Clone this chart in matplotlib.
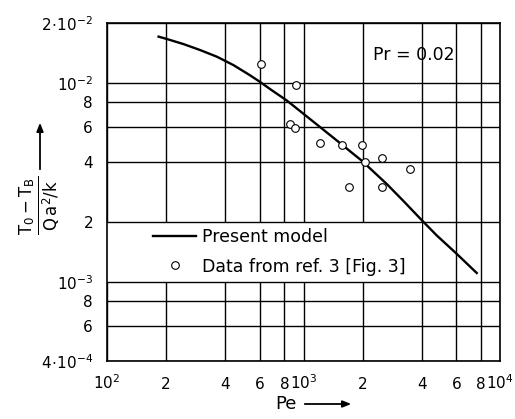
import numpy as np
import matplotlib
matplotlib.use("Agg")
import matplotlib.pyplot as plt
from matplotlib.patches import Rectangle, FancyArrowPatch

plt.rcParams['font.family'] = ['DejaVu Sans']
plt.rcParams['mathtext.fontset'] = 'dejavusans'

# ---- data ----
pe_model = [183, 202, 245, 298, 363, 441, 536, 602, 677, 823, 1000, 1216, 1479,
            1796, 1981, 2655, 3224, 4000, 4767, 6025, 7612]
theta_model = [1.708e-2, 1.661e-2, 1.567e-2, 1.462e-2, 1.353e-2, 1.227e-2, 1.09e-2,
               1.01e-2, 9.3e-3, 8.15e-3, 6.99e-3, 5.99e-3, 5.13e-3, 4.39e-3, 4.06e-3,
               3.10e-3, 2.55e-3, 2.04e-3, 1.71e-3, 1.382e-3, 1.108e-3]

pe_data = [607, 915, 849, 904, 1220, 1578, 1995, 2051, 2504, 3486, 1707, 2514]
theta_data = [1.242e-2, 9.8e-3, 6.21e-3, 5.92e-3, 5.01e-3, 4.89e-3, 4.88e-3,
              4.01e-3, 4.2e-3, 3.67e-3, 2.99e-3, 2.98e-3]

x_ticks = [100, 200, 400, 600, 800, 1000, 2000, 4000, 6000, 8000, 10000]
x_ticklabels = [r'$10^2$', '2', '4', '6', '8', r'$10^3$', '2', '4', '6', '8', r'$10^4$']
y_ticks = [4e-4, 6e-4, 8e-4, 1e-3, 2e-3, 4e-3, 6e-3, 8e-3, 1e-2, 2e-2]
y_ticklabels = [r'$4\!\cdot\!10^{-4}$', '6', '8', r'$10^{-3}$', '2', '4', '6', '8',
                r'$10^{-2}$', r'$2\!\cdot\!10^{-2}$']

legend_labels = ['Present model', 'Data from ref. 3 [Fig. 3]']

# ---- figure ----
fig = plt.figure(figsize=(5.15, 4.19), dpi=100)
ax = fig.add_axes([107/515, 1-361/419, (500-107)/515, (361-23)/419])
ax.set_xscale('log')
ax.set_yscale('log')
ax.set_xlim(x_ticks[0], x_ticks[-1])
ax.set_ylim(y_ticks[0], y_ticks[-1])

for xv in x_ticks:
    ax.axvline(xv, color='black', lw=1.0, zorder=1)
# blank area behind legend
ax.add_patch(Rectangle((x_ticks[0], 1e-3), 4000 - x_ticks[0], 1e-3,
                       facecolor='white', edgecolor='none', zorder=1.5))
for yv in y_ticks:
    ax.axhline(yv, color='black', lw=1.0, zorder=2)

line, = ax.plot(pe_model, theta_model, color='black', lw=1.7, zorder=3)
pts, = ax.plot(pe_data, theta_data, ls='none', marker='o', ms=5.5,
               mfc='white', mec='black', mew=0.8, zorder=4)

ax.minorticks_off()
ax.set_xticks(x_ticks)
ax.set_xticklabels(x_ticklabels, fontsize=11)
ax.set_yticks(y_ticks)
ax.set_yticklabels(y_ticklabels, fontsize=11)
ax.tick_params(axis='both', length=0)
ax.tick_params(axis='y', pad=10)
ax.tick_params(axis='x', pad=20)
for t in ax.xaxis.get_major_ticks():
    t.label1.set_verticalalignment('baseline')
for s in ax.spines.values():
    s.set_linewidth(1.2)

y0 = (np.log10(1e-3) - np.log10(y_ticks[0])) / (np.log10(y_ticks[-1]) - np.log10(y_ticks[0]))
y1 = (np.log10(2e-3) - np.log10(y_ticks[0])) / (np.log10(y_ticks[-1]) - np.log10(y_ticks[0]))
ax.legend([line, pts], legend_labels, loc='center left',
          bbox_to_anchor=(0.117, y0, 0.6, y1 - y0), bbox_transform=ax.transAxes,
          frameon=False, fontsize=12.5, handlelength=2.5, handletextpad=0.35,
          labelspacing=0.65, borderaxespad=0, borderpad=0)

ax.text(0.78, 0.905, 'Pr = 0.02', transform=ax.transAxes, fontsize=12.5,
        ha='center', va='center')

# y label (fraction) and arrow
fig.text(40/515, 1-205/419, r'$\frac{\mathrm{T_0 - T_B}}{\mathrm{Q\,a^2/k}}$',
         rotation=90, ha='center', va='center', fontsize=17)
fig.add_artist(FancyArrowPatch(
    (40/515, 1-172/419), (40/515, 1-120/419), transform=fig.transFigure,
    arrowstyle='-|>,head_length=5,head_width=2', color='black', lw=1.3))

# x label and arrow
fig.text(286/515, 1-404/419, 'Pe', ha='center', va='center', fontsize=13)
fig.add_artist(FancyArrowPatch(
    (302/515, 1-404/419), (354/515, 1-404/419), transform=fig.transFigure,
    arrowstyle='-|>,head_length=5,head_width=2', color='black', lw=1.3))

fig.savefig('out.png', dpi=100)
